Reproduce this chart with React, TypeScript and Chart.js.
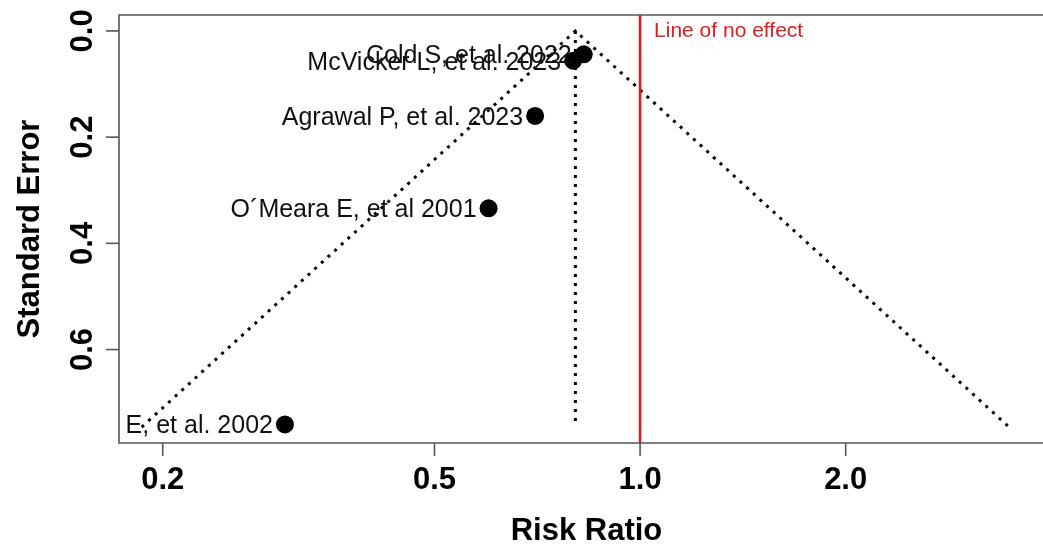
import React, { useEffect, useRef } from "react";
import { Chart, registerables } from "chart.js";

Chart.register(...registerables);

// ---- data ----
const studies = [
  "Cold S, et al. 2022",
  "McVicker L, et al. 2023",
  "Agrawal P, et al. 2023",
  "O´Meara E, et al 2001",
  "E, et al. 2002",
];
const riskRatios = [0.827, 0.798, 0.702, 0.6, 0.302];
const standardErrors = [0.044, 0.056, 0.16, 0.334, 0.741];
const pooledRR = 0.804;
const funnelMaxSE = 0.746;
const noEffectRR = 1.0;
const xTicks = [0.2, 0.5, 1.0, 2.0];
const xTickLabels = ["0.2", "0.5", "1.0", "2.0"];
const yTicks = [0, 0.2, 0.4, 0.6];
const yTickLabels = ["0.0", "0.2", "0.4", "0.6"];
const xTitle = "Risk Ratio";
const yTitle = "Standard Error";
const noEffectText = "Line of no effect";

const X_MIN = 0.1726;
const X_MAX = 3.89;
const Y_MIN = -0.03;
const Y_MAX = 0.776;

const FONT = "'Liberation Sans', Arial, Helvetica, sans-serif";
const AXIS_COLOR = "#555555";
const RED = "#e41a1c";

const funnelLo = Math.exp(Math.log(pooledRR) - 1.96 * funnelMaxSE);
const funnelHi = Math.exp(Math.log(pooledRR) + 1.96 * funnelMaxSE);

const decorPlugin = {
  id: "decor",
  afterDatasetsDraw(chart: any) {
    const ctx = chart.ctx as CanvasRenderingContext2D;
    const area = chart.chartArea;
    const xs = chart.scales.x;
    const ys = chart.scales.y;

    ctx.save();
    // box (top, bottom, left; right is beyond view)
    ctx.strokeStyle = AXIS_COLOR;
    ctx.lineWidth = 1.6;
    ctx.beginPath();
    ctx.moveTo(area.right + 5, area.top);
    ctx.lineTo(area.left, area.top);
    ctx.lineTo(area.left, area.bottom);
    ctx.lineTo(area.right + 5, area.bottom);
    ctx.stroke();

    // x ticks
    ctx.fillStyle = "#000";
    ctx.font = `bold 31px ${FONT}`;
    ctx.textAlign = "center";
    ctx.textBaseline = "alphabetic";
    xTicks.forEach((v, i) => {
      const px = xs.getPixelForValue(v);
      ctx.beginPath();
      ctx.moveTo(px, area.bottom);
      ctx.lineTo(px, area.bottom + 13);
      ctx.stroke();
      ctx.fillText(xTickLabels[i], px, 489);
    });

    // y ticks (rotated labels)
    yTicks.forEach((v, i) => {
      const py = ys.getPixelForValue(v);
      ctx.beginPath();
      ctx.moveTo(area.left, py);
      ctx.lineTo(area.left - 13, py);
      ctx.stroke();
      ctx.save();
      ctx.translate(92, py);
      ctx.rotate(-Math.PI / 2);
      ctx.fillText(yTickLabels[i], 0, 0);
      ctx.restore();
    });

    // axis titles
    ctx.fillText(xTitle, (area.left + 1054) / 2, 540);
    ctx.save();
    ctx.translate(39, (area.top + area.bottom) / 2);
    ctx.rotate(-Math.PI / 2);
    ctx.fillText(yTitle, 0, 0);
    ctx.restore();

    // clip to plot region for annotations
    ctx.beginPath();
    ctx.rect(area.left, area.top, area.right - area.left, area.bottom - area.top);
    ctx.clip();

    // red annotation
    ctx.fillStyle = RED;
    ctx.font = `21px ${FONT}`;
    ctx.textAlign = "left";
    ctx.fillText(noEffectText, xs.getPixelForValue(noEffectRR) + 14, ys.getPixelForValue(0) + 6);

    // study labels
    const meta = chart.getDatasetMeta(0);
    ctx.fillStyle = "#111";
    ctx.font = `25px ${FONT}`;
    ctx.textAlign = "right";
    meta.data.forEach((pt: any, i: number) => {
      ctx.fillText(studies[i], pt.x - 12, pt.y + 9);
    });
    ctx.restore();
  },
};

export default function App() {
  const ref = useRef<HTMLCanvasElement>(null);

  useEffect(() => {
    if (!ref.current) return;
    const dotted = {
      borderColor: "#000",
      borderWidth: 3,
      borderDash: [3, 6],
      pointRadius: 0,
      showLine: true,
      fill: false,
    };
    const chart = new Chart(ref.current, {
      type: "scatter",
      data: {
        datasets: [
          {
            label: "studies",
            data: riskRatios.map((rr, i) => ({ x: rr, y: standardErrors[i] })),
            pointRadius: 9,
            pointBackgroundColor: "#000",
            pointBorderWidth: 0,
            showLine: false,
          } as any,
          {
            label: "no effect",
            data: [
              { x: noEffectRR, y: Y_MIN },
              { x: noEffectRR, y: Y_MAX },
            ],
            borderColor: RED,
            borderWidth: 2.6,
            pointRadius: 0,
            showLine: true,
          },
          {
            label: "funnel",
            data: [
              { x: funnelLo, y: funnelMaxSE },
              { x: pooledRR, y: 0 },
              { x: funnelHi, y: funnelMaxSE },
            ],
            ...dotted,
          },
          {
            label: "pooled",
            data: [
              { x: pooledRR, y: 0 },
              { x: pooledRR, y: funnelMaxSE },
            ],
            ...dotted,
          },
        ],
      },
      options: {
        animation: false,
        responsive: false,
        layout: { autoPadding: false, padding: { left: 119, top: 15, right: 0, bottom: 101 } },
        plugins: { legend: { display: false }, tooltip: { enabled: false } },
        scales: {
          x: { type: "logarithmic", min: X_MIN, max: X_MAX, display: false },
          y: { type: "linear", min: Y_MIN, max: Y_MAX, reverse: true, display: false },
        },
      },
      plugins: [decorPlugin],
    });
    return () => chart.destroy();
  }, []);

  return (
    <div style={{ position: "absolute", left: 0, top: 0, width: 1043, height: 544, background: "#fff" }}>
      <canvas ref={ref} width={1043} height={544} />
    </div>
  );
}
